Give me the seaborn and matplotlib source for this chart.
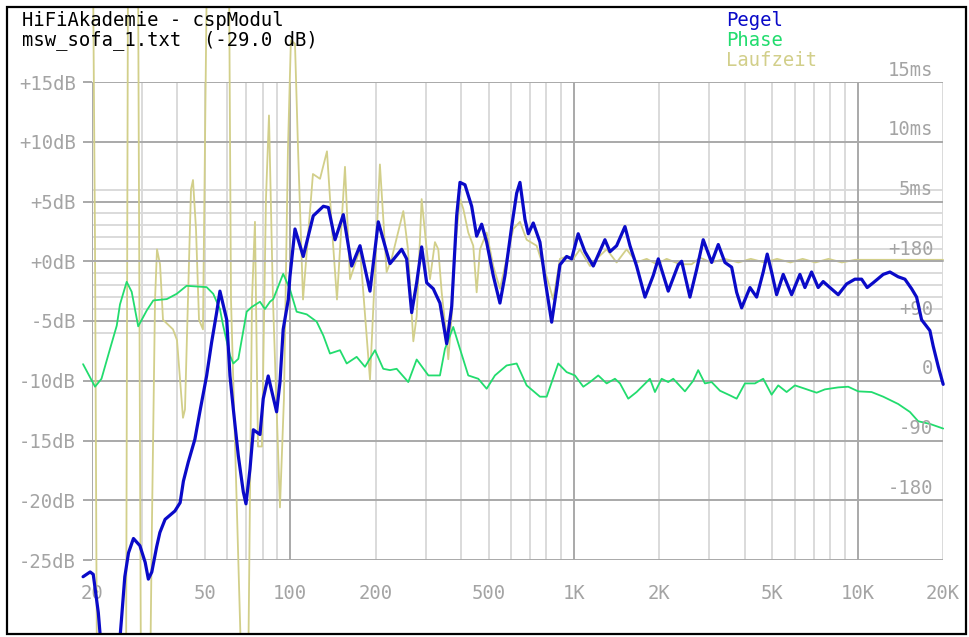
import matplotlib
matplotlib.use("Agg")
import matplotlib.pyplot as plt
from matplotlib.patches import Rectangle
from matplotlib.ticker import NullLocator
import seaborn as sns

# Pegel (level), dB
pegel_hz = [18.6, 19.7, 20.2, 21.05, 21.4, 23.0, 25.1, 25.4, 26.1, 26.9, 28.0, 29.5, 30.8, 31.6,
            32.5, 33.8, 34.7, 36.2, 39.2, 40.9, 42.0, 43.7, 46.1, 48.0, 50.7, 52.8, 55.0, 56.5,
            59.7, 61.3, 63.0, 65.6, 68.3, 69.8, 72.1, 74.1, 78.2, 80.3, 83.6, 89.5, 92.0, 94.4,
            98.4, 99.7, 103.9, 111.1, 120.5, 130.8, 136.2, 143.8, 153.8, 164.6, 176.1, 191.0,
            204.3, 224.6, 247.0, 257.2, 267.9, 279.0, 290.5, 302.6, 319.2, 337.0, 355.9, 370.7,
            386.0, 396.5, 412.9, 436.0, 454.0, 472.8, 492.4, 519.4, 548.4, 571.3, 603.2, 628.2,
            645.2, 672.1, 690.3, 718.8, 758.9, 790.5, 834.6, 869.1, 892.6, 942.5, 981.5, 1035,
            1093, 1170, 1286, 1340, 1414, 1513, 1576, 1663, 1780, 1903, 1983, 2150, 2332, 2397,
            2564, 2707, 2856, 3058, 3227, 3406, 3597, 3746, 3901, 4174, 4406, 4648, 4801, 4975,
            5182, 5467, 5853, 6261, 6520, 6882, 7262, 7563, 7986, 8543, 9146, 9783, 10330,
            10810, 11350, 12310, 13000, 13900, 14680, 15500, 16140, 16810, 17980, 18470, 19240,
            20030]
pegel_db = [-26.4, -26.0, -26.2, -29.4, -31.5, -35.0, -31.5, -30.0, -26.4, -24.4, -23.2, -23.8,
            -25.2, -26.6, -26.0, -23.9, -22.7, -21.6, -20.9, -20.2, -18.4, -16.8, -14.9, -12.6,
            -9.6, -6.8, -4.3, -2.5, -4.9, -9.6, -12.4, -16.3, -19.3, -20.3, -17.4, -14.1, -14.5,
            -11.5, -9.6, -12.6, -10.1, -5.7, -3.2, -1.3, 2.7, 0.4, 3.8, 4.6, 4.5, 1.8, 3.9, -0.4,
            1.3, -2.5, 3.3, -0.2, 1.0, 0.2, -4.3, -1.8, 1.2, -1.8, -2.3, -3.5, -6.9, -3.8, 3.8,
            6.6, 6.4, 4.6, 2.1, 3.1, 1.6, -1.2, -3.5, -1.2, 2.9, 5.7, 6.6, 3.5, 2.3, 3.2, 1.6,
            -1.5, -5.1, -2.3, -0.3, 0.4, 0.2, 2.3, 0.8, -0.4, 1.8, 0.8, 1.3, 2.9, 1.3, -0.4,
            -3.0, -1.2, 0.2, -2.5, -0.3, 0.0, -3.0, -0.7, 1.8, -0.1, 1.4, -0.1, -0.5, -2.6,
            -3.9, -2.2, -3.0, -0.9, 0.6, -0.9, -2.8, -1.1, -2.8, -1.1, -2.2, -0.9, -2.2, -1.7,
            -2.2, -2.8, -1.9, -1.5, -1.5, -2.2, -1.8, -1.1, -0.9, -1.3, -1.5, -2.3, -3.0, -4.9,
            -5.8, -7.1, -8.8, -10.3]

# Phase, degrees
phase_hz = [18.6, 20.5, 21.6, 23.15, 24.45, 25.1, 26.5, 27.6, 29.1, 31.2, 32.9, 36.7, 39.8,
            43.1, 50.7, 53.5, 56.5, 58.0, 61.3, 63.0, 65.6, 70.2, 73.1, 78.2, 81.4, 84.8, 87.1,
            94.4, 99.7, 105.3, 114.3, 123.9, 130.8, 138.0, 149.7, 158.1, 171.4, 183.4, 198.9,
            212.7, 224.6, 237.1, 260.6, 279.0, 306.8, 337.0, 351.0, 375.4, 396.5, 424.1, 459.9,
            492.4, 526.6, 579.0, 628.2, 681.3, 758.9, 801.4, 880.4, 942.5, 1008, 1079, 1139,
            1218, 1304, 1395, 1453, 1554, 1663, 1853, 1930, 2038, 2150, 2239, 2462, 2633, 2742,
            2895, 3058, 3271, 3547, 3746, 4007, 4345, 4648, 4975, 5250, 5620, 6012, 6520, 7170,
            7668, 8543, 9265, 10050, 11200, 12310, 13900, 15290, 16350, 17980, 20030]
phase_deg = [25, -9, 3, 48, 83, 115, 149, 134, 82, 106, 121, 123, 131, 143, 141, 131, 108, 83,
             38, 26, 33, 104, 111, 119, 108, 119, 123, 161, 138, 104, 100, 89, 68, 41, 46, 26,
             36, 21, 46, 18, 16, 18, -2, 32, 8, 8, 48, 81, 48, 8, 3, -12, 8, 23, 26, -7, -24,
             -24, 26, 13, 8, -9, -2, 8, -4, 3, -4, -27, -17, 3, -17, 3, -2, 3, -16, 0, 16, -4,
             -2, -15, -22, -27, -4, -4, 3, -21, -7, -17, -7, -12, -18, -13, -10, -9, -16, -17,
             -24, -35, -47, -61, -65, -72]

# Laufzeit (group delay), ms
laufzeit_hz = [20.16, 20.49, 20.83, 26.36, 26.79, 29.06, 29.77, 32.02, 32.55, 33.36, 33.90,
               34.74, 35.59, 37.07, 38.60, 39.87, 41.86, 42.54, 43.59, 44.67, 45.40, 46.52,
               47.67, 49.23, 50.85, 60.80, 61.80, 67.58, 70.95, 73.29, 75.08, 76.93, 79.47,
               82.09, 84.12, 86.89, 91.96, 94.99, 98.13, 100.5, 103.9, 106.5, 110.9, 114.5,
               120.2, 127.3, 134.7, 140.3, 146.1, 155.9, 162.4, 176.1, 191.0, 207.0, 218.6,
               227.6, 250.3, 260.0, 271.5, 279.0, 290.5, 302.6, 310.8, 323.6, 332.5, 341.8,
               355.9, 360.6, 370.7, 380.8, 396.5, 407.2, 424.1, 441.6, 454.0, 466.4, 492.4,
               519.4, 548.4, 579.0, 611.0, 645.2, 681.3, 738.6, 801.4, 845.4, 892.6, 942.5,
               995.0, 1050, 1139, 1202, 1304, 1414, 1533, 1663, 1805, 1957, 2122, 2365, 2600,
               2781, 3050, 3400, 3800, 4200, 4700, 5200, 5800, 6400, 7100, 7900, 8800, 9800,
               20000]
laufzeit_ms = [25, 1.8, -36, -36, 25, 25, -36, -36, -21.6, -3.2, 1.0, -0.25, -4.9, -5.3, -5.7,
               -6.6, -13.1, -12.4, -3.2, 6.0, 6.8, 2.7, -4.9, -5.7, 25, 25, -3.2, -36, -36,
               -3.2, 3.3, -15.5, -15.5, 5.2, 12.2, -3.2, -20.6, -11.5, 9.4, 18.5, 18.2, 9.4,
               -3.2, 1.0, 7.3, 6.9, 9.2, 2.7, -3.2, 7.9, -1.5, 1.0, -9.9, 8.1, -0.9, 0.2, 4.2,
               1.0, -6.7, -4.6, 5.2, 1.0, -1.5, 1.6, 1.0, -2.6, -6.5, -8.2, -4.6, 1.0, 5.2, 4.4,
               2.4, 1.3, -2.6, 1.0, 2.4, -0.4, -2.3, 0.2, 2.7, 3.3, 1.8, 1.3, -1.3, -3.2, 0.2,
               0.4, 0.2, 1.0, -0.4, 0.2, 1.0, -0.1, 1.0, -0.1, 0.2, -0.25, 0.2, -0.25, -0.25,
               0.3, -0.1, 0.2, -0.1, 0.2, -0.1, 0.2, -0.1, 0.2, -0.1, 0.2, -0.1, 0.12, 0.12]

db_ticks = [15, 10, 5, 0, -5, -10, -15, -20, -25]
db_labels = ["+15dB", "+10dB", "+5dB", "+0dB", "-5dB", "-10dB", "-15dB", "-20dB", "-25dB"]
fine_db = [6, 4, 3, 2, 1, -1, -2, -3, -4, -6]
freq_ticks = [20, 50, 100, 200, 500, 1000, 2000, 5000, 10000, 20000]
freq_labels = ["20", "50", "100", "200", "500", "1K", "2K", "5K", "10K", "20K"]
decade_lines = [20, 100, 1000, 10000]
minor_lines = [30, 40, 50, 60, 70, 80, 90, 200, 300, 400, 500, 600, 700, 800, 900,
               2000, 3000, 4000, 5000, 6000, 7000, 8000, 9000, 20000]
ms_ticks = [15, 10, 5]
ms_labels = ["15ms", "10ms", "5ms"]
deg_ticks = [180, 90, 0, -90, -180]
deg_labels = ["+180", "+90", "0", "-90", "-180"]

sns.set_theme(style="white")
plt.rcParams["font.family"] = ["DejaVu Sans Mono"]

W, H = 970, 637
fig = plt.figure(figsize=(W / 100, H / 100), dpi=100)
fig.patch.set_facecolor("white")

GRID_DARK = "#a9a9a9"
GRID_LIGHT = "#dadada"
LABEL_GRAY = "#a4a4a4"
BLUE = "#0a0ac8"
GREEN = "#22dc6e"
KHAKI = "#d2cf8a"
FS = 13.6

ax = fig.add_axes([92 / W, 1 - 560 / H, 851 / W, 478 / H])
ax.set_facecolor("none")
for s in ax.spines.values():
    s.set_visible(False)
ax.set_xscale("log")

# grid
ax.vlines(minor_lines, -25, 15, colors=GRID_LIGHT, lw=1.4, zorder=1)
ax.hlines(fine_db, 20, 20000, colors=GRID_LIGHT, lw=1.4, zorder=1)
ax.vlines(decade_lines, -25, 15, colors=GRID_DARK, lw=1.4, zorder=2)
ax.hlines(db_ticks, 20, 20000, colors=GRID_DARK, lw=1.4, zorder=2)

ax.set_xlim(20, 20000)
ax.set_ylim(-25, 15)
ax.set_xticks(freq_ticks, freq_labels)
ax.xaxis.set_minor_locator(NullLocator())
ax.set_yticks(db_ticks, db_labels)
ax.tick_params(axis="x", length=8.6, width=1.4, color=GRID_LIGHT, pad=8.5,
               labelsize=FS, labelcolor=LABEL_GRAY)
ax.tick_params(axis="y", length=6.5, width=1.4, color=GRID_DARK, pad=5,
               labelsize=FS, labelcolor=LABEL_GRAY)
for t, f in zip(ax.xaxis.get_major_ticks(), freq_ticks):
    if f in decade_lines:
        t.tick1line.set_color(GRID_DARK)

# curve axes: group delay (ms) and phase (deg) share the dB grid
ax_ms = ax.twinx()
ax_ph = ax.twinx()
ax_db = ax.twinx()
for a in (ax_ms, ax_ph, ax_db):
    for s in a.spines.values():
        s.set_visible(False)

clip = Rectangle((8 / W, (H - 633) / H), 957 / W, 625 / H, transform=fig.transFigure)

sns.lineplot(x=laufzeit_hz, y=laufzeit_ms, ax=ax_ms, color=KHAKI, lw=1.3,
             estimator=None, sort=False, zorder=2)
# the 0 ms / 0 dB line lies over the flat part of the delay curve
ax_ms.axhline(0, color=GRID_DARK, lw=1.4, zorder=3)
sns.lineplot(x=phase_hz, y=phase_deg, ax=ax_ph, color=GREEN, lw=1.3,
             estimator=None, sort=False)
sns.lineplot(x=pegel_hz, y=pegel_db, ax=ax_db, color=BLUE, lw=2.3,
             estimator=None, sort=False)

for a in (ax_ms, ax_ph, ax_db):
    for ln in a.lines:
        ln.set_clip_path(clip)
    a.set_yticks([])
    a.set_ylabel("")
    a.tick_params(right=False, labelright=False)

ax_ms.set_ylim(-25, 15)
ax_ph.set_ylim((-25 + 10) * 18, (15 + 10) * 18)
ax_db.set_ylim(-25, 15)
ax.set_xlim(20, 20000)

# right-hand scale labels sit just above their grid lines
for v, s in zip(ms_ticks, ms_labels):
    ax_ms.annotate(s, xy=(1, v), xycoords=("axes fraction", "data"), xytext=(-7, 8.5),
                   textcoords="offset points", ha="right", va="center",
                   color=LABEL_GRAY, fontsize=FS)
for v, s in zip(deg_ticks, deg_labels):
    ax_ph.annotate(s, xy=(1, v), xycoords=("axes fraction", "data"), xytext=(-7, 8.5),
                   textcoords="offset points", ha="right", va="center",
                   color=LABEL_GRAY, fontsize=FS)

# header and legend
fig.text(22 / W, 1 - 20 / H, "HiFiAkademie - cspModul", ha="left", va="center",
         fontsize=FS, color="black")
fig.text(22 / W, 1 - 40 / H, "msw_sofa_1.txt  (-29.0 dB)", ha="left", va="center",
         fontsize=FS, color="black")
fig.text(726 / W, 1 - 20 / H, "Pegel", ha="left", va="center", fontsize=FS, color=BLUE)
fig.text(726 / W, 1 - 41 / H, "Phase", ha="left", va="center", fontsize=FS, color=GREEN)
fig.text(726 / W, 1 - 61 / H, "Laufzeit", ha="left", va="center", fontsize=FS, color=KHAKI)

fig.add_artist(Rectangle((7 / W, (H - 634) / H), 959 / W, 627 / H, transform=fig.transFigure,
                         fill=False, edgecolor="black", lw=1.6))

fig.savefig("out.png", dpi=100, facecolor="white")
